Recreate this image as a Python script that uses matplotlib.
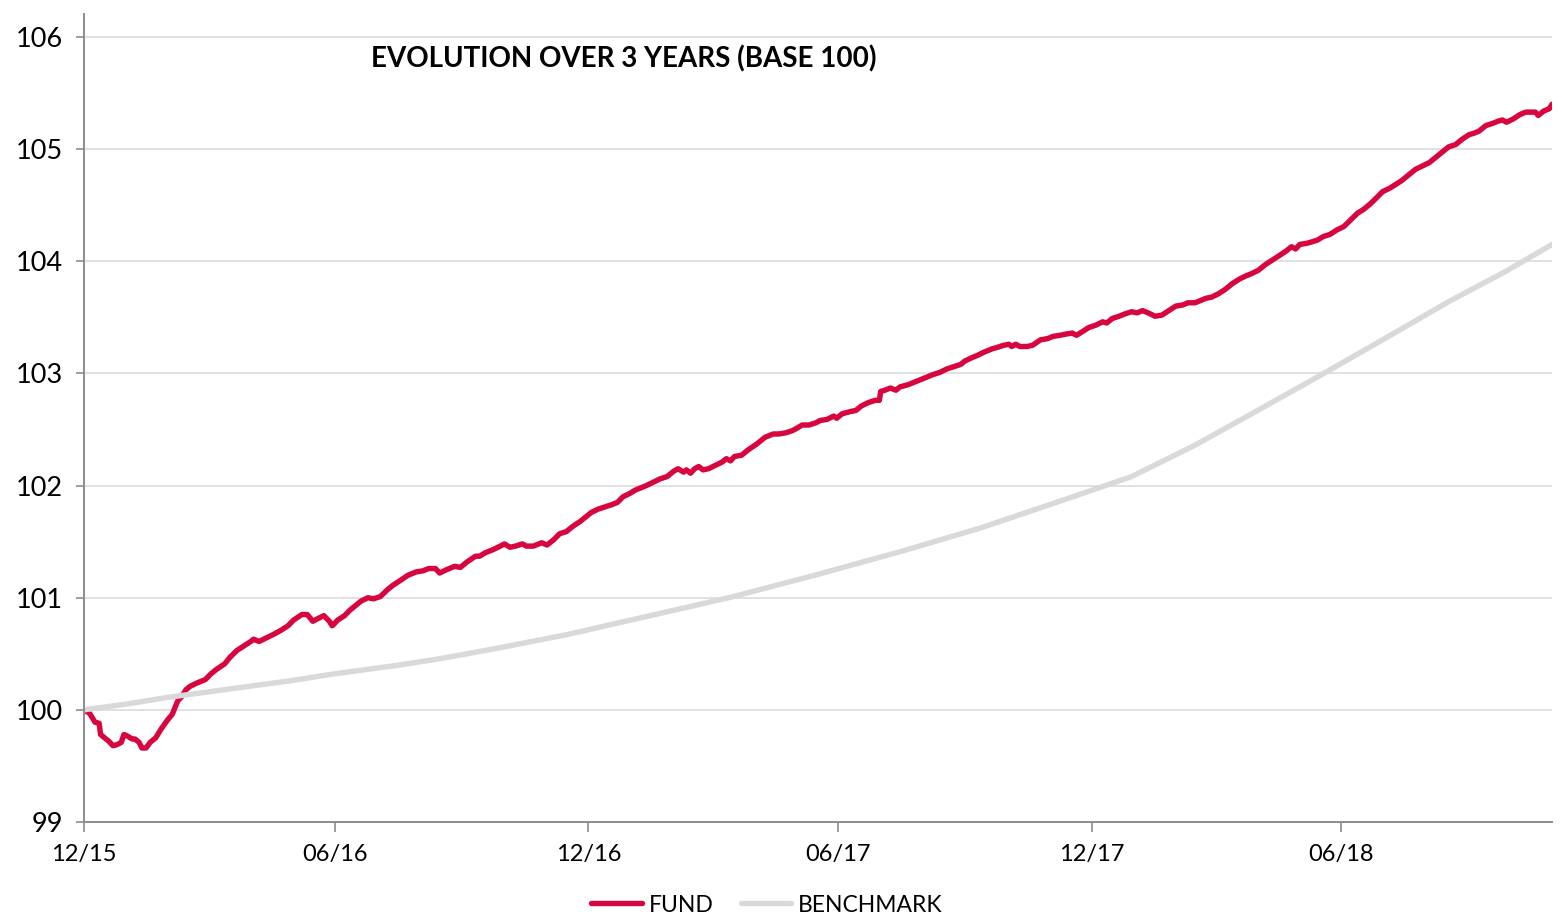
import matplotlib
matplotlib.use('Agg')

import matplotlib.pyplot as plt
import matplotlib.dates as mdates
import pandas as pd

plt.rcParams['font.family'] = ['Lato', 'DejaVu Sans']

start = pd.Timestamp('2015-12-31')

# FUND: (days since start, value)
fund_days = [0, 4, 6, 8, 11, 12, 15, 18, 21, 24, 27, 29, 31, 35, 37, 40, 42, 45, 48, 52,
             56, 60, 64, 68, 71, 74, 77, 82, 88, 92, 96, 102, 106, 111, 116, 121, 123, 127, 132, 137,
             143, 148, 152, 158, 162, 166, 169, 174, 178, 180,
             181, 184, 189, 193, 197, 201, 206, 210, 215, 220, 224, 229, 235, 241, 246, 250, 255, 258, 263, 269,
             273, 278, 284, 287, 291, 297, 302, 305, 309, 313, 318, 321, 326, 332, 336, 341, 345, 350, 355,
             360, 364, 368, 373, 378, 383, 387, 391, 396, 400, 404, 408, 413, 418, 423, 428, 431, 435, 437, 440,
             443, 446, 449, 453, 458, 463, 466, 469, 472, 477, 482, 488, 494, 500, 504, 509, 514, 517, 521, 526, 531,
             534, 539, 544, 546, 550, 556, 560, 564, 569, 574, 577, 578, 581, 585, 589, 592, 598, 604, 610, 616,
             621, 626, 631, 636, 639, 644, 648, 653, 659, 662, 667, 671, 673, 676, 679, 684, 688, 694, 699, 703, 708,
             712, 717, 720, 724, 729, 734, 739, 742, 746, 751, 755, 760, 764, 768, 772, 777, 782, 787, 792, 797,
             801, 806, 810, 814, 818, 823, 828, 833, 838, 843, 847, 852, 857, 862, 867, 872, 876, 879, 882, 887,
             890, 895, 899, 904, 909, 914, 919, 924, 928, 933, 938, 942, 947, 951, 956, 961, 966, 971, 976, 980,
             985, 990, 995, 1000, 1005, 1008, 1012, 1017, 1022, 1026, 1029, 1032, 1037, 1042, 1046, 1049, 1053,
             1055, 1059, 1063, 1065]
fund_values = [100.00, 99.97, 99.93, 99.89, 99.88, 99.78, 99.75, 99.72, 99.68, 99.69, 99.71, 99.78, 99.77, 99.74,
               99.74, 99.71, 99.66, 99.66, 99.71, 99.75, 99.83, 99.90, 99.96, 100.08, 100.12, 100.18, 100.21,
               100.24, 100.27, 100.32, 100.36, 100.41, 100.47, 100.53, 100.57, 100.61, 100.63, 100.61, 100.64,
               100.67, 100.71, 100.75, 100.80, 100.85, 100.85, 100.79, 100.81, 100.84, 100.79, 100.75,
               100.76, 100.80, 100.84, 100.89, 100.93, 100.97, 101.00, 100.99, 101.01, 101.07, 101.11, 101.15,
               101.20, 101.23, 101.24, 101.26, 101.26, 101.22, 101.25, 101.28, 101.27, 101.32, 101.37, 101.37,
               101.40, 101.43, 101.46, 101.48, 101.45, 101.46, 101.48, 101.46, 101.46, 101.49, 101.47, 101.52,
               101.57, 101.59, 101.64,
               101.68, 101.72, 101.76, 101.79, 101.81, 101.83, 101.85, 101.90, 101.93, 101.96, 101.98, 102.00,
               102.03, 102.06, 102.08, 102.13, 102.15, 102.12, 102.14, 102.11, 102.15, 102.17, 102.14, 102.15,
               102.18, 102.21, 102.24, 102.22, 102.26, 102.27, 102.32, 102.37, 102.43, 102.46, 102.46, 102.47,
               102.49, 102.51, 102.54, 102.54, 102.56,
               102.58, 102.59, 102.62, 102.60, 102.64, 102.66, 102.67, 102.71, 102.74, 102.76, 102.76, 102.84,
               102.85, 102.87, 102.85, 102.88, 102.90, 102.93, 102.96, 102.99, 103.01, 103.04, 103.06, 103.08,
               103.11, 103.14, 103.16, 103.19, 103.22, 103.23, 103.25, 103.26, 103.24, 103.26, 103.24, 103.24,
               103.25, 103.30, 103.31, 103.33, 103.34,
               103.35, 103.36, 103.34, 103.37, 103.41, 103.43, 103.46, 103.45, 103.49, 103.51, 103.53, 103.55,
               103.54, 103.56, 103.54, 103.51, 103.52, 103.56, 103.60, 103.61, 103.63, 103.63, 103.65, 103.67,
               103.68, 103.71, 103.75, 103.80, 103.84, 103.87, 103.89, 103.92, 103.97, 104.01, 104.05, 104.09,
               104.13, 104.11, 104.15, 104.16,
               104.17, 104.19, 104.22, 104.24, 104.28, 104.31, 104.37, 104.43, 104.46, 104.51, 104.57, 104.62,
               104.65, 104.68, 104.72, 104.77, 104.82, 104.85, 104.88, 104.92, 104.97, 105.02, 105.04, 105.09,
               105.13, 105.14, 105.16, 105.21, 105.23, 105.25, 105.26, 105.24, 105.27, 105.31, 105.33, 105.33,
               105.33, 105.30, 105.34, 105.36, 105.40]

# BENCHMARK
bench_days = [0, 30, 60, 90, 120, 150, 181, 229, 260, 300, 350, 400, 450, 471, 530, 592, 650, 715,
              760, 806, 850, 898, 945, 990, 1030, 1065]
bench_values = [100.00, 100.05, 100.11, 100.16, 100.21, 100.26, 100.32, 100.40, 100.46, 100.55, 100.67,
                100.81, 100.95, 101.01, 101.20, 101.41, 101.62, 101.89, 102.08, 102.36, 102.66, 102.99,
                103.32, 103.64, 103.90, 104.15]

tick_dates = ['2015-12-31', '2016-06-30', '2016-12-31', '2017-06-30', '2017-12-31', '2018-06-30']

fund_x = start + pd.to_timedelta(fund_days, unit='D')
bench_x = start + pd.to_timedelta(bench_days, unit='D')

fig = plt.figure(figsize=(15.62, 9.14), dpi=100, facecolor='white')
ax = fig.add_axes([84 / 1562, 1 - 822 / 914, 1468 / 1562, 808 / 914])

ax.plot(fund_x, fund_values, color='#D7063F', lw=3.9, label='FUND', solid_capstyle='round')
ax.plot(bench_x, bench_values, color='#D9D9D9', lw=3.9, label='BENCHMARK', solid_capstyle='round')

ax.set_xlim(start, start + pd.Timedelta(days=1065))
ax.set_ylim(99, 106.205)
ax.set_yticks(range(99, 107))
ax.set_xticks(pd.to_datetime(tick_dates))
ax.xaxis.set_major_formatter(mdates.DateFormatter('%m/%y'))

ax.grid(axis='y', color='#D9D9D9', lw=1.1)
ax.set_axisbelow(True)
for s in ['top', 'right']:
    ax.spines[s].set_visible(False)
for s in ['left', 'bottom']:
    ax.spines[s].set_color('#8C8C8C')
    ax.spines[s].set_linewidth(1.4)

ax.tick_params(axis='y', length=6, width=1.2, color='#8C8C8C', labelsize=19.5, pad=9)
ax.tick_params(axis='x', length=7, width=1.2, color='#8C8C8C', labelsize=17, pad=9)

fig.text(624 / 1562, 1 - 59 / 914, 'EVOLUTION OVER 3 YEARS (BASE 100)',
         ha='center', va='center', fontsize=20, fontweight='bold')

fig.legend(loc='center', bbox_to_anchor=(767 / 1562, 1 - 905 / 914), ncol=2, frameon=False,
           fontsize=16.5, handlelength=2.2, handletextpad=0.3, columnspacing=1.2)

fig.savefig('out.png', dpi=100, facecolor='white')
